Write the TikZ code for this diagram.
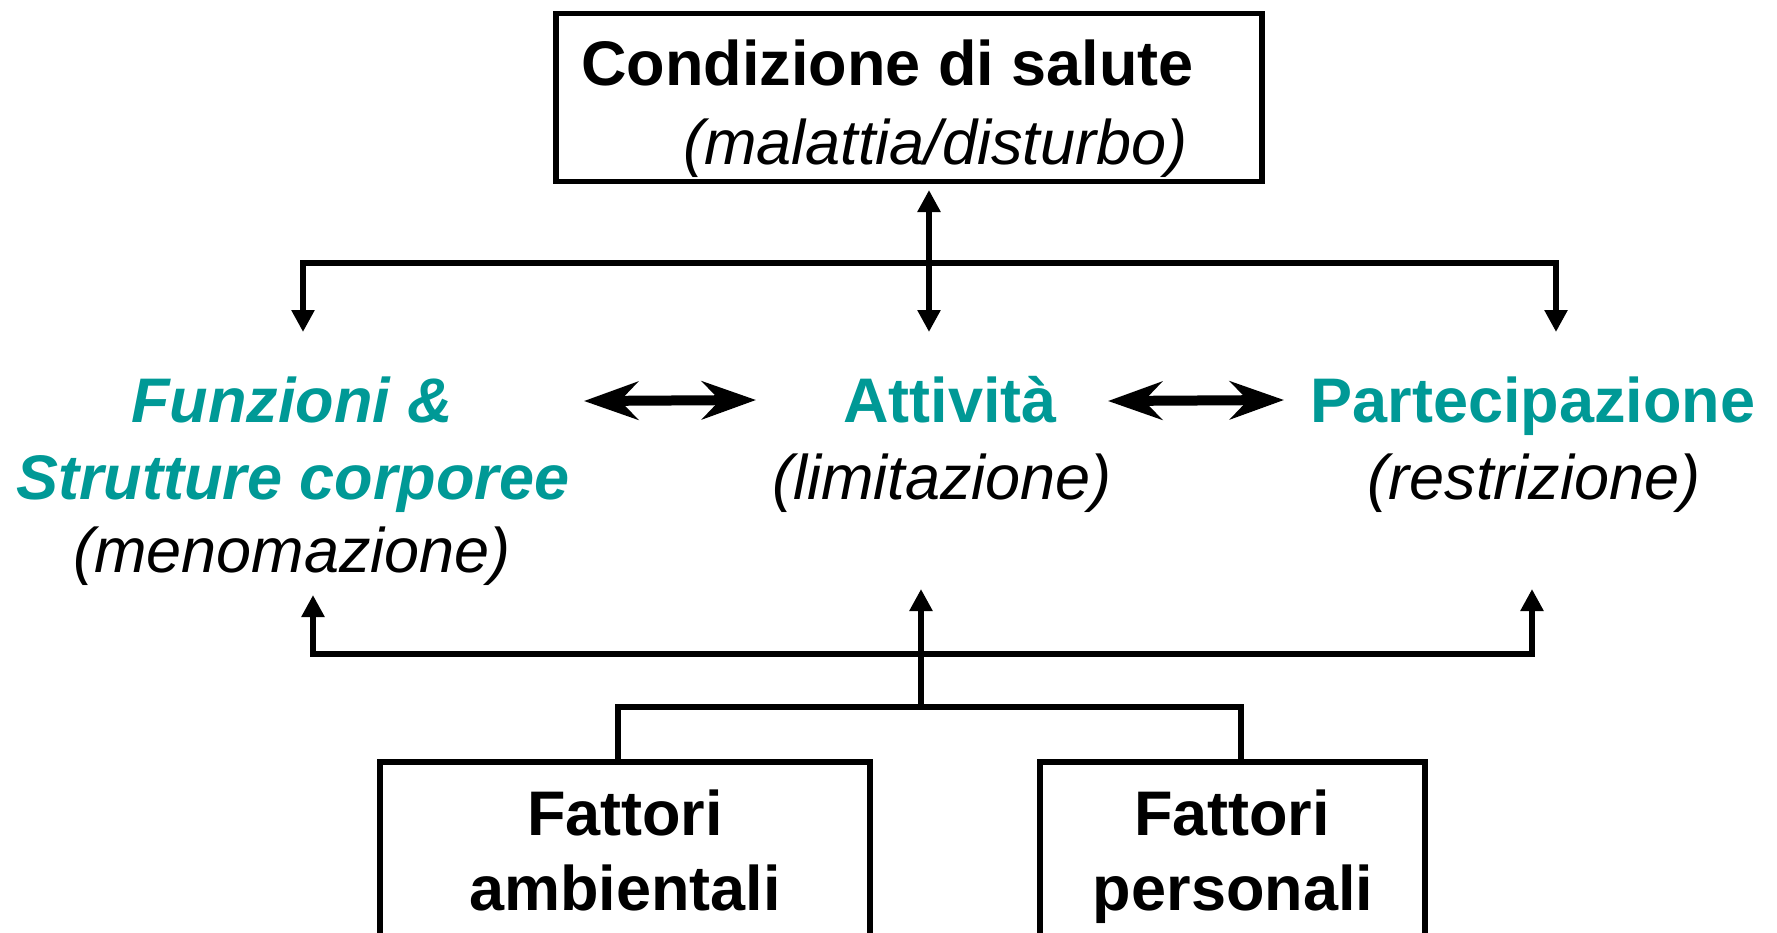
\documentclass[tikz,border=0pt]{standalone}
\usepackage{fontspec}
\setmainfont{Liberation Sans}
\usepackage{tikz}
\usetikzlibrary{arrows.meta}
\definecolor{icfteal}{RGB}{0,153,150}
\newcommand{\bigfont}{\fontsize{31.5}{39.5}\selectfont}
\tikzstyle{icfbox}=[draw,line width=2.9pt,inner sep=0pt]
\tikzstyle{txt}=[inner sep=0pt,anchor=base,font=\bigfont]
\tikzstyle{headtxt}=[txt,font=\bigfont\bfseries]
\tikzstyle{domtxt}=[txt,text=icfteal,font=\bigfont\bfseries]
\tikzstyle{notetxt}=[txt,font=\bigfont\itshape]
\tikzstyle{conn}=[draw,line width=2.9pt]
\tikzstyle{arr}=[conn,-{Triangle[length=11pt,width=11pt]}]
\tikzstyle{dblarr}=[conn,{Triangle[length=11pt,width=11pt]}-{Triangle[length=11pt,width=11pt]}]
\tikzstyle{bigarr}=[draw,line width=5pt,{Stealth[length=27pt,width=19pt,inset=9pt]}-{Stealth[length=27pt,width=19pt,inset=9pt]}]

\begin{document}
\begin{tikzpicture}[x=0.5pt,y=-0.5pt]

    \useasboundingbox (0,0) rectangle (1777,932);
    \clip (0,0) rectangle (1777,932);

    % health condition
    \node[icfbox,minimum width=353pt,minimum height=84pt] (cond) at (909,97.5) {};
    \node[headtxt,anchor=base west] (condA) at (581,85) {Condizione di salute};
    \node[notetxt,anchor=base west] (condB) at (683,164) {(malattia/disturbo)};

    % the three domains
    \node[domtxt,font=\bigfont\bfseries\itshape] (funzA) at (292,422) {Funzioni \&};
    \node[domtxt,font=\bigfont\bfseries\itshape] (funzB) at (293,499) {Strutture corporee};
    \node[notetxt] (funzC) at (292,572) {(menomazione)};
    \foreach \pos/ \name / \label in {{(950,422)/attA/Attività}, {(1533,422)/partA/Partecipazione}}
        \node[domtxt] (\name) at \pos {\label};
    \foreach \pos/ \name / \label in {{(942,499)/attB/(limitazione)}, {(1534,499)/partB/(restrizione)}}
        \node[notetxt] (\name) at \pos {\label};

    % contextual factors
    \node[icfbox,minimum width=245pt,minimum height=119pt] (amb) at (625,881) {};
    \node[icfbox,minimum width=192.5pt,minimum height=119pt] (pers) at (1232.5,881) {};
    \foreach \pos/ \name / \label in {{(625,835)/ambA/Fattori}, {(625,910)/ambB/ambientali},
                                      {(1232,835)/persA/Fattori}, {(1233,910)/persB/personali}}
        \node[headtxt] (\name) at \pos {\label};

    % junction points
    \coordinate (condS) at (929,190);
    \coordinate (attN) at (929,332);
    \coordinate (funzN) at (303,332);
    \coordinate (partN) at (1556,332);
    \coordinate (funzS) at (313,595);
    \coordinate (attS) at (921,589);
    \coordinate (partS) at (1532,589);
    \coordinate (ambN) at (618,762);
    \coordinate (persN) at (1241,762);

    % connectors
    \path[dblarr] (condS) -- (attN);
    \path[dblarr] (funzN) -- (303,263) -- (1556,263) -- (partN);
    \path[dblarr] (funzS) -- (313,654) -- (1532,654) -- (partS);
    \path[arr] (921,707) -- (attS);
    \path[conn] (ambN) -- (618,707) -- (1241,707) -- (persN);
    \path[bigarr] (584,401) -- (756,400);
    \path[bigarr] (1108,401) -- (1284,400);

\end{tikzpicture}
\end{document}
